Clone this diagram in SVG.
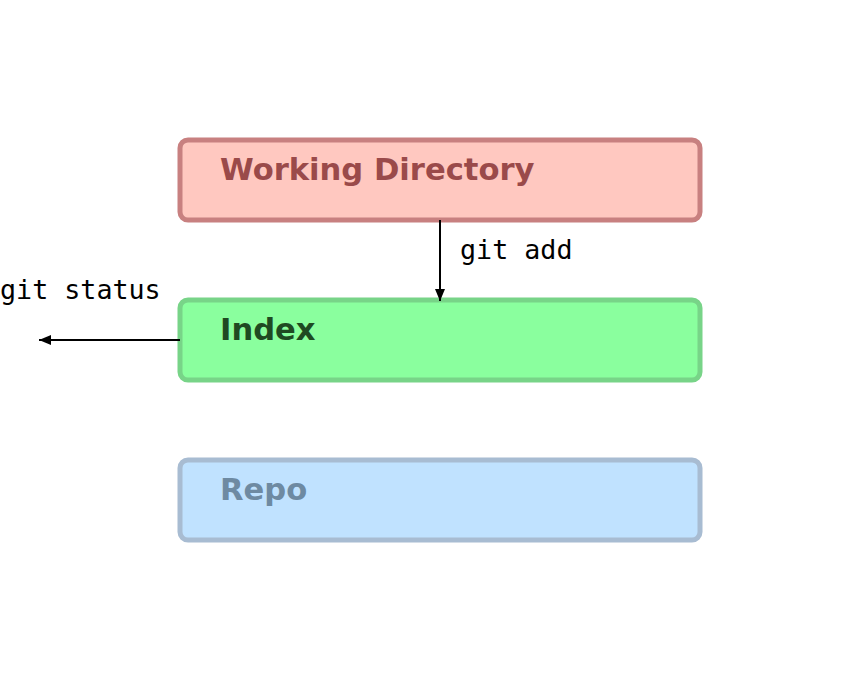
<svg xmlns="http://www.w3.org/2000/svg" width="860" height="680" viewBox="0 0 860 680">
<style>
.box{stroke-width:5}
.title{font-family:"DejaVu Sans",sans-serif;font-weight:bold;font-size:30.6px}
.lbl{font-family:"DejaVu Sans Mono",monospace;font-size:26.7px;fill:#000}
.edge{stroke:#000;stroke-width:2;fill:none}
</style>
<defs>
<marker id="arr" viewBox="0 0 12 10" refX="12" refY="5" markerWidth="12" markerHeight="10" orient="auto" markerUnits="userSpaceOnUse"><path d="M0,0L12,5L0,10z" fill="#000"/></marker>
</defs>
<rect width="860" height="680" fill="#fff"/>
<g id="wd"><rect class="box" x="180" y="140" width="520" height="80" rx="8" fill="#ffc8c0" stroke="#c88080"/><text class="title" x="220" y="180" fill="#9a4a4a">Working Directory</text></g>
<g id="index"><rect class="box" x="180" y="300" width="520" height="80" rx="8" fill="#8aff9e" stroke="#78d488"/><text class="title" x="220" y="340" fill="#1f4a22">Index</text></g>
<g id="repo"><rect class="box" x="180" y="460" width="520" height="80" rx="8" fill="#c0e2ff" stroke="#a8bcd2"/><text class="title" x="220" y="500" fill="#6e8aa2">Repo</text></g>
<g id="edges">
<line class="edge" x1="440" y1="220" x2="440" y2="301" marker-end="url(#arr)"/>
<text class="lbl" x="460" y="259">git add</text>
<line class="edge" x1="180" y1="340" x2="39" y2="340" marker-end="url(#arr)"/>
<text class="lbl" x="0" y="299">git status</text>
</g>
</svg>
